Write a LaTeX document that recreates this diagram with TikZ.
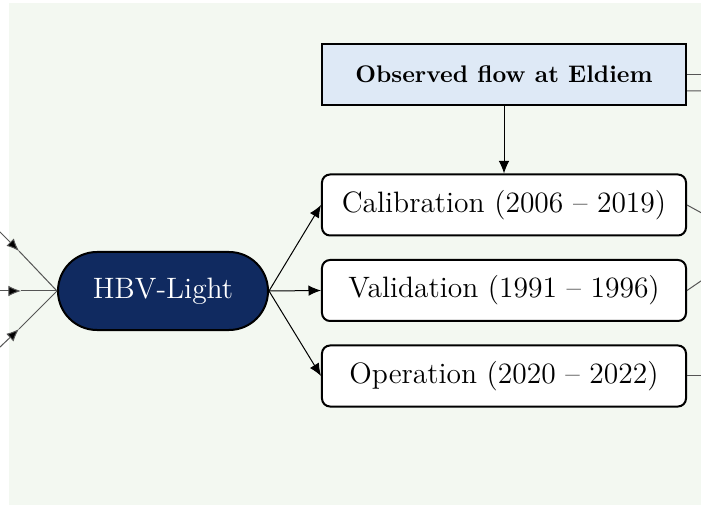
\documentclass[tikz,border=0pt]{standalone}
\usetikzlibrary{arrows.meta}
\definecolor{bggreen}{RGB}{243,248,241}
\definecolor{obsblue}{RGB}{222,233,246}
\definecolor{hbvnavy}{RGB}{16,42,96}
\definecolor{linegray}{RGB}{85,85,85}
\tikzset{
  period/.style={draw, line width=0.8pt, rounded corners=3.2pt, fill=white, minimum width=145.6pt, minimum height=24.4pt, inner sep=0pt, font=\fontsize{11.8}{13}\selectfont},
  obsbox/.style={draw, line width=0.9pt, fill=obsblue, minimum width=145.6pt, minimum height=24.4pt, inner sep=0pt, font=\bfseries\fontsize{9.6}{12}\selectfont},
  modelbox/.style={draw, line width=0.8pt, fill=hbvnavy, text=white, rounded corners=15.6pt, minimum width=84pt, minimum height=31.2pt, inner sep=0pt, font=\fontsize{11.8}{13}\selectfont},
  arr/.style={-{Latex[length=5pt,width=4.2pt]}, line width=0.4pt},
  link/.style={line width=0.4pt, linegray}
}
\begin{document}
\begin{tikzpicture}[x=0.4pt,y=-0.4pt]
\useasboundingbox (0,0) rectangle (701,506);
\clip (0,0) rectangle (701,506);
\fill[bggreen] (9,3) rectangle (701,505);
\node[obsbox] (obs) at (504,74.5){Observed flow at Eldiem};
\node[period] (cal) at (504,205){Calibration (2006 -- 2019)};
\node[period] (val) at (504,290.5){Validation (1991 -- 1996)};
\node[period] (op) at (504,376){Operation (2020 -- 2022)};
\node[modelbox] (hbv) at (163,291){HBV-Light};
\draw[arr](obs) -- (cal);
\draw[arr](hbv.east) -- (cal.west);
\draw[arr](hbv.east) -- (val.west);
\draw[arr](hbv.east) -- (op.west);
\coordinate (in1) at (-20,212);
\coordinate (in2) at (-20,291);
\coordinate (in3) at (-20,366);
\coordinate (tip1) at (19,251);
\coordinate (tip2) at (21,291);
\coordinate (tip3) at (19,329);
\draw[arr, linegray, arrows={-{Latex[length=5pt,width=4.2pt,fill=black]}}](in1) -- (tip1);
\draw[arr, linegray, arrows={-{Latex[length=5pt,width=4.2pt,fill=black]}}](in2) -- (tip2);
\draw[arr, linegray, arrows={-{Latex[length=5pt,width=4.2pt,fill=black]}}](in3) -- (tip3);
\draw[link](tip1) -- (hbv.west);
\draw[link](tip2) -- (hbv.west);
\draw[link](tip3) -- (hbv.west);
\coordinate (out0) at (720,74.5);
\coordinate (out1) at (720,91);
\coordinate (out2) at (720,223);
\coordinate (out3) at (720,268);
\coordinate (out4) at (720,376);
\draw[link](obs.east) -- (out0);
\draw[link]([yshift=-6.6pt]obs.east) -- (out1);
\draw[link](cal.east) -- (out2);
\draw[link](val.east) -- (out3);
\draw[link](op.east) -- (out4);
\end{tikzpicture}
\end{document}
